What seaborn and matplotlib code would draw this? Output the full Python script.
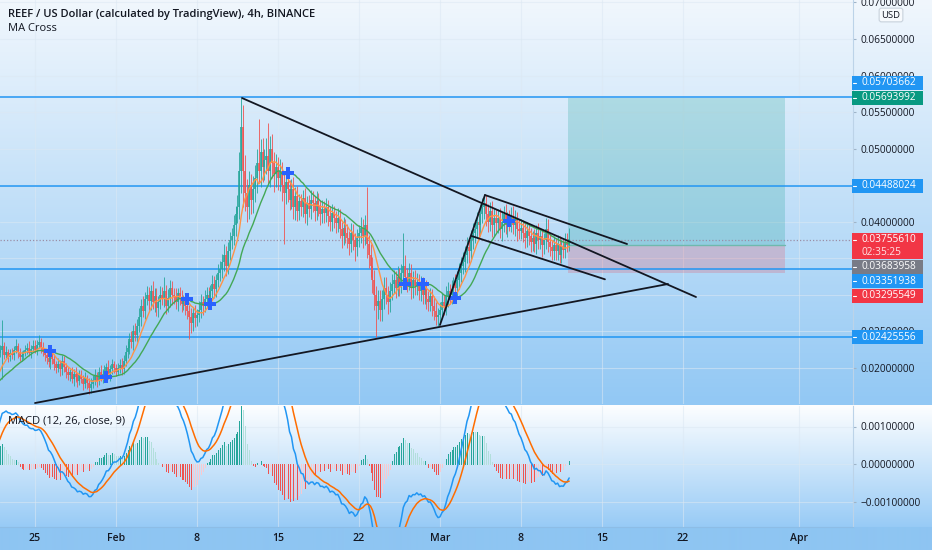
import numpy as np
import pandas as pd
import seaborn as sns
import matplotlib
matplotlib.use("Agg")
import matplotlib.pyplot as plt
from matplotlib.patches import Rectangle
from matplotlib.lines import Line2D
from matplotlib.colors import to_rgba
from matplotlib.ticker import FuncFormatter

# ---------------- data ----------------
# 4h candles, prices in units of 0.0001 USD. Opens are the previous close.
# warm-up candles (Jan 18-21) sit left of the view and only feed the indicators
warmup_close = [165, 168, 163, 170, 172, 168, 170, 174, 171, 176, 173, 178,
                175, 172, 178, 180, 176, 182, 180, 185, 190, 200, 212, 220]
warmup_up = [3, 4, 3, 5, 4, 3, 4, 3, 5, 4, 3, 4, 5, 3, 4, 4, 3, 5, 4, 5, 6, 8, 10, 9]
warmup_lo = [4, 3, 4, 3, 5, 4, 3, 4, 3, 5, 4, 3, 4, 5, 3, 4, 5, 3, 4, 3, 5, 4, 6, 8]

close_4h = [
    225, 230, 218, 222, 215, 220,  # Jan 22
    218, 225, 230, 222, 215, 218,
    220, 224, 228, 221, 226, 230,
    225, 232, 236, 228, 222, 218,  # Jan 25
    214, 208, 218, 212, 205, 200,
    205, 198, 210, 202, 195, 190,
    194, 185, 192, 188, 182, 190,
    185, 178, 186, 180, 172, 178,
    184, 190, 182, 195, 188, 192,
    196, 202, 190, 198, 205, 200,  # Jan 31
    195, 200, 204, 198, 210, 222,  # Feb 1
    228, 240, 235, 250, 245, 258,
    270, 285, 278, 295, 300, 292,
    305, 290, 298, 282, 290, 300,
    295, 305, 285, 296, 310, 300,
    298, 290, 302, 295, 288, 292,
    285, 278, 270, 262, 275, 268,
    272, 280, 290, 285, 295, 300,  # Feb 8
    295, 305, 315, 308, 320, 330,
    335, 345, 355, 340, 360, 375,
    380, 395, 410, 420, 470, 530,
    470, 440, 420, 450, 430, 445,
    460, 480, 470, 495, 475, 485,
    490, 470, 500, 480, 465, 475,
    460, 470, 450, 440, 455, 445,  # Feb 15
    430, 445, 420, 435, 415, 428,
    420, 432, 410, 425, 418, 430,
    425, 415, 428, 420, 410, 418,
    412, 420, 408, 400, 412, 405,
    398, 405, 390, 380, 392, 385,
    378, 370, 385, 375, 365, 378,
    385, 392, 380, 395, 370, 355,  # Feb 22
    340, 320, 300, 285, 292, 280,
    295, 310, 300, 290, 305, 315,
    320, 310, 325, 315, 330, 340,
    325, 318, 330, 310, 320, 312,
    318, 305, 312, 300, 308, 295,
    290, 298, 285, 278, 270, 272,
    280, 290, 285, 298, 305, 300,  # Mar 1
    308, 315, 310, 320, 330, 340,
    345, 355, 365, 360, 375, 385,
    390, 400, 395, 410, 420, 425,
    410, 400, 415, 395, 405, 398,
    405, 390, 400, 410, 395, 402,
    400, 408, 395, 402, 390, 388,
    392, 385, 378, 388, 380, 372,  # Mar 8
    378, 370, 385, 375, 380, 368,
    375, 390, 372, 365, 360, 368,
    360, 370, 355, 365, 362, 372,
    368, 376,                      # Mar 12
]
wick_up = [
    6, 36, 5, 8, 4, 6,  8, 5, 9, 4, 6, 5,  5, 7, 6, 9, 5, 8,  8, 6, 9, 5, 7, 4,
    6, 10, 8, 5, 7, 5,  9, 6, 8, 7, 5, 6,  5, 8, 6, 9, 5, 7,  7, 5, 8, 5, 6, 8,
    6, 8, 5, 7, 9, 6,  8, 5, 9, 6, 7, 5,
    6, 7, 8, 9, 8, 9,  9, 8, 11, 9, 12, 9,  12, 9, 14, 9, 12, 11,  9, 14, 11, 12, 9, 12,
    11, 20, 9, 12, 11, 9,  9, 11, 8, 9, 12, 8,  9, 11, 8, 12, 9, 11,
    9, 12, 11, 9, 12, 11,  11, 9, 12, 11, 9, 12,  12, 11, 14, 12, 12, 11,
    12, 14, 12, 16, 25, 39,  30, 22, 18, 20, 16, 18,  18, 20, 61, 18, 20, 14,
    24, 45, 18, 20, 16, 18,
    14, 16, 12, 18, 14, 16,  12, 14, 16, 12, 14, 10,  10, 12, 14, 10, 12, 14,
    12, 10, 14, 12, 10, 12,  10, 12, 10, 14, 12, 10,  10, 14, 12, 10, 14, 12,
    12, 10, 14, 12, 10, 12,
    10, 14, 12, 14, 53, 12,  14, 12, 14, 12, 14, 14,  12, 14, 14, 12, 12, 14,
    14, 12, 14, 12, 12, 45,  14, 12, 14, 12, 12, 14,  12, 10, 14, 12, 10, 12,
    10, 12, 10, 14, 12, 10,
    10, 12, 10, 14, 12, 10,  12, 10, 14, 12, 14, 12,  14, 12, 14, 12, 14, 14,
    12, 14, 12, 14, 12, 11,  12, 14, 12, 14, 14, 12,  12, 14, 14, 12, 14, 12,
    14, 12, 14, 14, 12, 14,  12, 10, 14, 12, 10, 12,
    10, 12, 10, 14, 12, 10,  10, 15, 14, 12, 10, 12,  10, 12, 10, 12, 10, 12,
    12, 15,
]
wick_lo = [
    5, 40, 6, 4, 7, 5,  6, 7, 4, 8, 5, 6,  6, 4, 5, 5, 7, 4,  5, 7, 4, 8, 6, 9,
    8, 6, 9, 6, 8, 7,  6, 9, 7, 8, 9, 6,  8, 6, 9, 7, 8, 5,  6, 8, 5, 9, 8, 6,
    5, 7, 8, 5, 6, 8,  7, 6, 5, 8, 6, 7,
    6, 5, 7, 8, 6, 7,  8, 9, 7, 11, 8, 9,  9, 12, 8, 11, 9, 12,  12, 9, 14, 11, 12, 9,
    9, 12, 11, 9, 12, 14,  11, 9, 12, 9, 11, 9,  12, 11, 30, 14, 11, 12,
    11, 9, 12, 12, 9, 11,  9, 11, 9, 12, 11, 9,  11, 12, 12, 14, 11, 12,
    12, 12, 14, 11, 16, 30,  50, 25, 20, 16, 20, 18,  18, 20, 16, 22, 20, 18,
    20, 18, 22, 20, 24, 18,
    16, 18, 22, 70, 16, 18,  14, 12, 16, 18, 14, 12,  12, 14, 12, 14, 12, 14,
    12, 14, 12, 12, 14, 12,  14, 12, 14, 12, 12, 14,  14, 12, 12, 16, 12, 14,
    14, 16, 12, 14, 18, 12,
    12, 14, 16, 12, 20, 18,  16, 18, 20, 43, 18, 16,  16, 14, 12, 16, 14, 12,
    12, 14, 12, 16, 12, 14,  12, 14, 12, 16, 14, 12,  12, 12, 14, 12, 12, 14,
    12, 12, 14, 12, 11, 12,
    12, 12, 12, 12, 14, 12,  12, 12, 12, 14, 12, 12,  12, 14, 12, 16, 14, 12,
    14, 12, 16, 14, 12, 16,  16, 14, 12, 16, 14, 12,  14, 12, 16, 14, 12, 16,
    12, 14, 12, 14, 16, 12,  12, 12, 14, 12, 12, 14,
    12, 12, 14, 12, 12, 16,  12, 12, 14, 12, 12, 12,  12, 12, 12, 12, 12, 12,
    10, 8,
]

level_lines = [0.05703662, 0.04488024, 0.03351938, 0.02425556]
last_price = 0.03755610
countdown = "02:35:25"
pos_target = 0.05693992
pos_entry = 0.03683958
pos_stop = 0.03295549
pos_days = [39.07, 57.82]          # days after Feb 1

# hand-drawn lines, x = days after Feb 1
resist_day, resist_px = [10.89, 50.13], [0.05693, 0.02971]
support_day, support_px = [-7.0, 47.71], [0.01521, 0.03149]
pole_day, pole_px = [28.0, 31.89], [0.02588, 0.04366]
flag_top_day, flag_top_px = [31.89, 44.17], [0.04366, 0.03696]
flag_bot_day, flag_bot_px = [30.74, 42.26], [0.03805, 0.03213]

date_ticks = [-7, 0, 7, 14, 21, 28, 35, 42, 49, 59]
date_labels = ["25", "Feb", "8", "15", "22", "Mar", "8", "15", "22", "Apr"]
price_ticks = [0.020, 0.025, 0.030, 0.035, 0.040, 0.045, 0.050, 0.055, 0.060, 0.065, 0.070]
hidden_ticks = [0.030, 0.035, 0.045]   # fully covered by the scale labels
macd_ticks = [-0.001, 0.0, 0.001]

scale_texts = ["0.05703662", "0.05693992", "0.04488024", "0.03755610\n" + countdown,
               "0.03683958", "0.03351938", "0.03295549", "0.02425556"]
scale_colors = ["#2196f3", "#089981", "#2196f3", "#f23645",
                "#787b86", "#2196f3", "#f23645", "#2196f3"]
# layout: label centres / heights in pixels from the top (stacked like TradingView)
scale_ypx = [82.7, 97.7, 186.0, 246.0, 266.7, 281.3, 296.0, 337.0]
scale_hpx = [14, 14, 14, 26.5, 14, 14, 14, 14]

# ---------------- frame ----------------
n = min(len(close_4h), len(wick_up), len(wick_lo))
closes = np.array(warmup_close + close_4h[:n]) * 1e-4
ups = np.array(warmup_up + wick_up[:n]) * 1e-4
lows = np.array(warmup_lo + wick_lo[:n]) * 1e-4
t = (np.arange(len(closes)) - len(warmup_close)) / 6.0 - 10.0

df = pd.DataFrame({"t": t, "close": closes})
df["open"] = df["close"].shift(1).fillna(df["close"])
df["high"] = df[["open", "close"]].max(axis=1) + ups
df["low"] = df[["open", "close"]].min(axis=1) - lows
df["ma_fast"] = df["close"].rolling(9).mean()
df["ma_slow"] = df["close"].rolling(21).mean()
ema12 = df["close"].ewm(span=12, adjust=False).mean()
ema26 = df["close"].ewm(span=26, adjust=False).mean()
df["macd"] = ema12 - ema26
df["signal"] = df["macd"].ewm(span=9, adjust=False).mean()
df["hist"] = df["macd"] - df["signal"]

side = np.sign(df["ma_fast"] - df["ma_slow"])
df["cross"] = (side != side.shift(1)) & side.notna() & side.shift(1).notna()

vis = df[df["t"] >= -10.2].reset_index(drop=True)
up = (vis["close"] >= vis["open"]).to_numpy()

# ---------------- figure ----------------
sns.set_style("white")
plt.rcParams["font.family"] = ["Open Sans", "DejaVu Sans"]
TXT = "#131722"
W, H = 932, 550
fig = plt.figure(figsize=(W / 100, H / 100), dpi=100)

# background gradient (two panes + time strip)
img = np.zeros((H, 2, 3))
def fill(y0, y1, c0, c1):
    for k in range(3):
        img[y0:y1, :, k] = np.linspace(c0[k], c1[k], y1 - y0)[:, None] / 255.0
fill(0, 405, (241, 247, 253), (146, 200, 244))
fill(405, 527, (253, 254, 255), (152, 203, 246))
fill(527, H, (142, 197, 242), (142, 197, 242))
bg = fig.add_axes([0, 0, 1, 1])
bg.imshow(img, aspect="auto", extent=[0, 1, 0, 1], interpolation="bilinear")
bg.axis("off")

PANE_W = 853
ax = fig.add_axes([0, 1 - 404 / H, PANE_W / W, 404 / H], facecolor="none")
mx = fig.add_axes([0, 1 - 527 / H, PANE_W / W, (527 - 406) / H], facecolor="none")

xlim = (-116 / 11.57, (PANE_W - 116) / 11.57)
for a in (ax, mx):
    a.set_xlim(*xlim)
    a.set_xticks(date_ticks)
    a.grid(True, color="#dce8f3", lw=0.8, alpha=0.55)
    a.set_axisbelow(True)
    for s in ("left", "top", "bottom"):
        a.spines[s].set_visible(False)
    a.spines["right"].set_color("#bcd3e8")
    a.spines["right"].set_linewidth(0.8)
    a.yaxis.tick_right()
    a.tick_params(axis="y", length=2.5, pad=3.2, labelsize=7.3, color="#9fb4c8", labelcolor=TXT)

def price_fmt(v, p):
    if any(abs(v - h) < 1e-9 for h in hidden_ticks):
        return ""
    return f"{v:.8f}"

ax.set_ylim(0.065 - (404 - 39) / 7311, 0.065 + 39 / 7311)
ax.set_yticks(price_ticks)
ax.yaxis.set_major_formatter(FuncFormatter(price_fmt))
ax.tick_params(axis="x", length=0, labelbottom=False)

# levels, position tool, price line
for v in level_lines:
    ax.axhline(v, color="#2196f3", lw=1.1, zorder=2)
ax.add_patch(Rectangle((pos_days[0], pos_entry), pos_days[1] - pos_days[0], pos_target - pos_entry,
                       fc=(0.0, 0.59, 0.53, 0.2), ec="none", zorder=1.5))
ax.add_patch(Rectangle((pos_days[0], pos_stop), pos_days[1] - pos_days[0], pos_entry - pos_stop,
                       fc=(0.95, 0.21, 0.27, 0.2), ec="none", zorder=1.5))
ax.plot(pos_days, [pos_entry, pos_entry], color="#6fb9ae", lw=1.0, zorder=1.6)
ax.axhline(last_price, color="#9b8ea6", lw=0.9, ls=(0, (1, 1.6)), zorder=2.5)

# candles: thin wicks + slightly wider bodies
UP_C, DN_C = to_rgba("#26a69a"), to_rgba("#ef5350")
col = [UP_C if u else DN_C for u in up]
body_lo = vis[["open", "close"]].min(axis=1)
body_hi = np.maximum(vis[["open", "close"]].max(axis=1), body_lo + 0.00012)
ax.vlines(vis["t"], vis["low"], vis["high"], colors=col, lw=0.6, zorder=3)
ax.vlines(vis["t"], body_lo, body_hi, colors=col, lw=1.15, zorder=3.2)

# MA Cross indicator
sns.lineplot(data=vis, x="t", y="ma_fast", ax=ax, color="#ff9347", lw=1.0, zorder=4, estimator=None)
sns.lineplot(data=vis, x="t", y="ma_slow", ax=ax, color="#43a856", lw=1.0, zorder=4, estimator=None)
sns.scatterplot(data=vis[vis["cross"]], x="t", y="ma_slow", ax=ax, marker="P", s=70,
                color="#2962ff", linewidth=0, zorder=5)

# drawings
for xs, ys in [(resist_day, resist_px), (support_day, support_px), (pole_day, pole_px),
               (flag_top_day, flag_top_px), (flag_bot_day, flag_bot_px)]:
    ax.plot(xs, ys, color="#131722", lw=1.3, zorder=6, solid_capstyle="round")
ax.set_xlabel("")
ax.set_ylabel("")

# MACD pane
mx.set_ylim(-63 / 37500, 58 / 37500)
mx.set_yticks(macd_ticks)
mx.yaxis.set_major_formatter(FuncFormatter(
    lambda v, p: f"{v:.8f}".replace("-", "\u2212") if abs(v) > 1e-9 else "0.00000000"))
hist = vis["hist"].to_numpy()
prev = np.r_[hist[0], hist[:-1]]
hcol = []
for h, p in zip(hist, prev):
    if h >= 0:
        hcol.append(to_rgba("#26a69a") if h > p else to_rgba("#b2dfdb"))
    else:
        hcol.append(to_rgba("#ef5350") if h < p else to_rgba("#f8c9cf"))
mx.vlines(vis["t"], 0, hist, colors=hcol, lw=0.72, zorder=3, antialiased=False)
sns.lineplot(data=vis, x="t", y="macd", ax=mx, color="#2196f3", lw=1.1, zorder=4, estimator=None)
sns.lineplot(data=vis, x="t", y="signal", ax=mx, color="#ff6d00", lw=1.1, zorder=4, estimator=None)
mx.set_xlabel("")
mx.set_ylabel("")
mx.set_xticklabels(date_labels)
mx.tick_params(axis="x", length=0, pad=4.5, labelsize=7.6, labelcolor=TXT)
for lab in mx.get_xticklabels():
    lab.set_fontweight("semibold")
mx.spines["bottom"].set_visible(True)
mx.spines["bottom"].set_color("#8dbde6")
mx.spines["bottom"].set_linewidth(0.8)

# price-scale labels
for txt, c, yc, hh in zip(scale_texts, scale_colors, scale_ypx, scale_hpx):
    fig.add_artist(Rectangle((852 / W, 1 - (yc + hh / 2) / H), 71 / W, hh / H,
                             transform=fig.transFigure, fc=c, ec="none", zorder=1))
    first = yc - hh / 2 + 7
    fig.add_artist(Line2D([852.5 / W, 856 / W], [1 - first / H] * 2, color="white", lw=0.8, zorder=2))
    lines = txt.split("\n")
    fig.text(861 / W, 1 - first / H, lines[0], color="white",
             fontsize=7.3, va="center", ha="left", zorder=3)
    if len(lines) > 1:
        fig.text(861 / W, 1 - (first + 12.5) / H, lines[1], color="#ffe3e5",
                 fontsize=7.3, va="center", ha="left", zorder=3)

fig.text(891 / W, 1 - 15 / H, "USD", fontsize=6.8, ha="center", va="center", color=TXT,
         bbox=dict(boxstyle="round,pad=0.25", fc="#f7fafd", ec="#c8d2dc", lw=0.8), zorder=3)

fig.text(8 / W, 1 - 14 / H, "REEF / US Dollar (calculated by TradingView), 4h, BINANCE",
         fontsize=8.0, fontweight="semibold", color=TXT, va="center", ha="left")
fig.text(8 / W, 1 - 28.5 / H, "MA Cross", fontsize=8.0, color=TXT, va="center", ha="left")
fig.text(8 / W, 1 - 421 / H, "MACD (12, 26, close, 9)", fontsize=8.0, color=TXT, va="center", ha="left")

fig.savefig("out.png", dpi=100)
